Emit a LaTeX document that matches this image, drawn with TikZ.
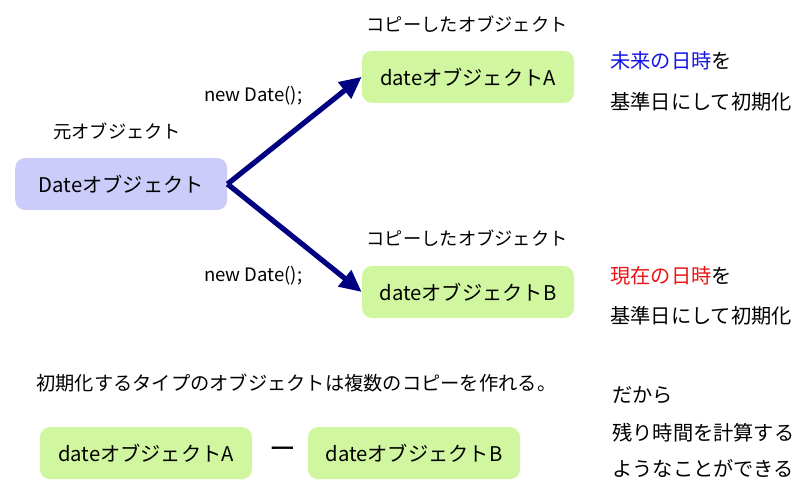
\documentclass[tikz,border=0pt]{standalone}
\usepackage{fontspec}
\setmainfont{Noto Sans CJK JP}
\usetikzlibrary{arrows.meta, positioning}
\definecolor{origfill}{RGB}{204,204,250}
\definecolor{copyfill}{RGB}{208,247,160}
\definecolor{navy}{RGB}{0,0,128}
\definecolor{futureblue}{RGB}{20,20,230}
\definecolor{nowred}{RGB}{235,20,20}

\begin{document}
\begin{tikzpicture}[
        every node/.style={inner sep=0pt, font=\fontsize{14.4}{16}\selectfont},
        objbox/.style={rounded corners=0.25cm, minimum width=5.3cm, minimum height=1.3cm},
        caption/.style={font=\fontsize{13}{15}\selectfont},
        code/.style={font=\fontsize{13.2}{15}\selectfont},
        note/.style={anchor=west},
        copyarrow/.style={-{Triangle[length=0.55cm, width=0.5cm]}, line width=0.13cm, draw=navy}
    ]
    \useasboundingbox (0,0) rectangle (20,-12.375);
    % Define nodes
    \node[objbox, fill=origfill] (orig) at (3.03,-4.6) {Dateオブジェクト};
    \node[caption] (origlbl) at (2.93,-3.28) {元オブジェクト};
    \node[objbox, fill=copyfill] (copyA) at (11.7,-1.92) {dateオブジェクトA};
    \node[caption] (copyAlbl) at (11.68,-0.6) {コピーしたオブジェクト};
    \node[objbox, fill=copyfill] (copyB) at (11.7,-7.3) {dateオブジェクトB};
    \node[caption] (copyBlbl) at (11.68,-5.95) {コピーしたオブジェクト};
    \node[code] (newA) at (6.33,-2.4) {new Date();};
    \node[code] (newB) at (6.33,-6.9) {new Date();};
    % right notes
    \node[note] (futA) at (15.25,-1.53) {\textcolor{futureblue}{未来の日時}を};
    \node[note] (futB) at (15.25,-2.55) {基準日にして初期化};
    \node[note] (nowA) at (15.25,-6.9) {\textcolor{nowred}{現在の日時}を};
    \node[note] (nowB) at (15.25,-7.9) {基準日にして初期化};
    % bottom part
    \node[note, font=\fontsize{13.7}{15}\selectfont] (summary) at (0.9,-9.58) {初期化するタイプのオブジェクトは複数のコピーを作れる。};
    \node[objbox, fill=copyfill] (diffA) at (3.65,-11.33) {dateオブジェクトA};
    \node[objbox, fill=copyfill] (diffB) at (10.35,-11.33) {dateオブジェクトB};
    \node[font=\fontsize{19}{20}\selectfont] (minus) at (7.07,-11.33) {ー};
    \node[note] (soA) at (15.3,-9.88) {だから};
    \node[note] (soB) at (15.3,-10.83) {残り時間を計算する};
    \node[note] (soC) at (15.3,-11.7) {ようなことができる};
    % Draw edges
    \draw[copyarrow] (orig.east) -- (copyA.west);
    \draw[copyarrow] (orig.east) -- (copyB.west);
\end{tikzpicture}
\end{document}
